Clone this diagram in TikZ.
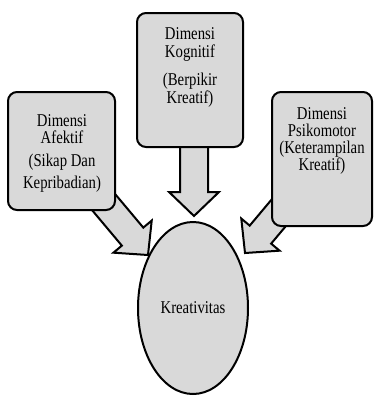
\documentclass[tikz,border=0pt]{standalone}
\usepackage{fontspec}
\setmainfont{Liberation Serif}
\newfontfamily\condserif[FakeStretch=0.82]{Liberation Serif}
\usetikzlibrary{shapes.geometric}
\definecolor{boxgray}{HTML}{D9D9D9}
\tikzset{
  box/.style={draw=black, line width=2pt, fill=boxgray, rounded corners=9pt, inner sep=0pt},
  label/.style={align=center, inner sep=0pt, anchor=north},
  blockarrow/.style={draw=black, line width=2pt, fill=boxgray, line join=miter},
  centre/.style={draw=black, line width=2pt, fill=boxgray, ellipse, inner sep=0pt}
}
\newcommand\blockarr[3]{%
  \begin{scope}[shift={(#1)}, rotate=#2]
    \draw[blockarrow] (0,0) -- (-24,25) -- (-24,14) -- (-#3,14) -- (-#3,-14) -- (-24,-14) -- (-24,-25) -- cycle;
  \end{scope}}
\begin{document}
\begin{tikzpicture}[x=1pt,y=-1pt]
\useasboundingbox (0,0) rectangle (374,397);
% arrows (behind boxes)
\blockarr{148,255}{-50}{85}
\blockarr{194,216}{-90}{85}
\blockarr{245,253}{-130}{85}
% boxes
\node[box, minimum width=107pt, minimum height=118pt] (aff) at (61.5,151) {};
\node[box, minimum width=106pt, minimum height=134pt] (kog) at (190,80) {};
\node[box, minimum width=100pt, minimum height=134pt] (psi) at (322,159) {};
\node[centre, minimum width=110pt, minimum height=172pt] (kre) at (193,308) {};
% texts
\node[label, font=\condserif\fontsize{18}{17}\selectfont] (afftext) at (62,114.2) {Dimensi\\Afektif\\[6pt](Sikap Dan\\[5pt]Kepribadian)};
\node[label, font=\condserif\fontsize{18}{18}\selectfont] (kogtext) at (190,27.7) {Dimensi\\Kognitif\\[10pt](Berpikir\\Kreatif)};
\node[label, font=\condserif\fontsize{18}{17}\selectfont] (psitext) at (322,107.7) {Dimensi\\Psikomotor\\(Keterampilan\\Kreatif)};
\node[font=\condserif\fontsize{18}{18}\selectfont, inner sep=0pt] (kretext) at (kre.center) {Kreativitas};
\end{tikzpicture}
\end{document}
